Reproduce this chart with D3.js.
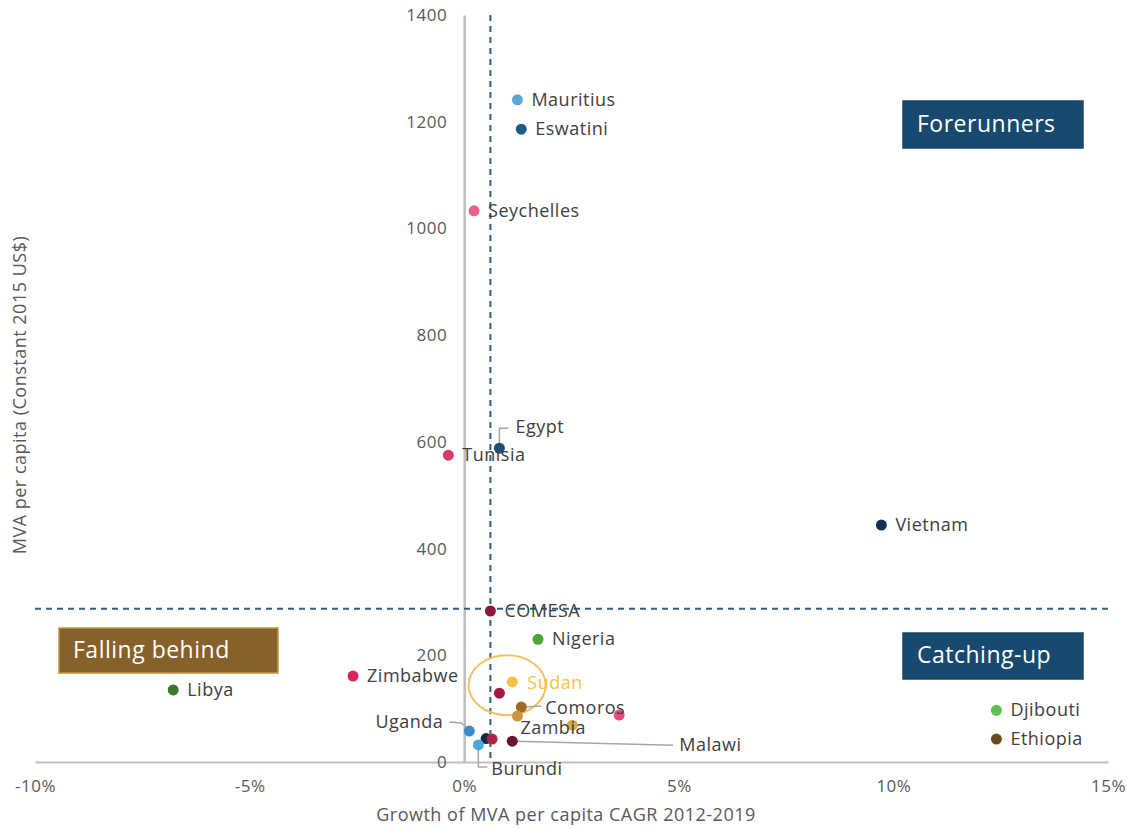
<!DOCTYPE html>
<html>
<head>
<meta charset="utf-8">
<script src="https://cdn.jsdelivr.net/npm/d3@7"></script>
<style>
  body { margin: 0; background: #fff; }
  svg text { font-family: "Open Sans", sans-serif; letter-spacing: 0.5px; }
</style>
</head>
<body>
<div id="chart"></div>
<script>
const width = 1127;
const height = 829;

// data
const countries = ["Mauritius", "Eswatini", "Seychelles", "Egypt", "Tunisia", "Vietnam", "COMESA",
    "Nigeria", "Zimbabwe", "Libya", "Sudan", "", "Comoros", "Zambia", "", "", "Djibouti", "Ethiopia",
    "Uganda", "", "", "Burundi", "Malawi"];
const growth = [1.24, 1.33, 0.23, 0.82, -0.37, 9.72, 0.61,
    1.72, -2.59, -6.78, 1.12, 0.82, 1.33, 1.24, 2.52, 3.61, 12.4, 12.4,
    0.12, 0.51, 0.65, 0.33, 1.12];
const mva = [1241, 1186, 1033, 588, 575, 444, 283,
    230, 161, 135, 150, 129, 103, 86, 69, 88, 97, 43,
    58, 44, 43, 32, 39];
const xTicks = [-10, -5, 0, 5, 10, 15];
const yTicks = [0, 200, 400, 600, 800, 1000, 1200, 1400];
const comesa = {growth: 0.61, mva: 287};

// styles
const pointColors = ["#5ba7da", "#1f5c85", "#e8618c", "#1f4e79", "#d63c64", "#14304f", "#8b1a3a",
    "#4ea33b", "#d9245a", "#3a7a2e", "#f7c04a", "#a3193f", "#9c6a24", "#c9973c", "#d6a84a", "#e84c7a", "#5cc052", "#6b4b1e",
    "#3d8cc9", "#0f2a45", "#b02245", "#4aa8e0", "#6b1430"];

// label offsets from the point (px)
const labelPos = {
    "Egypt": {dx: 16, dy: -20, leader: [[0, -4], [0, -20], [9, -20]]},
    "Comoros": {dx: 24, dy: 2, leader: [[2, 0], [20, -1]]},
    "Zambia": {dx: 3, dy: 13},
    "Uganda": {dx: -26, dy: -8, anchor: "end", leader: [[-2, -3], [-8, -8], [-20, -9]]},
    "Burundi": {dx: 13, dy: 25, leader: [[0, 4], [0, 22], [9, 22]]},
    "Malawi": {dx: 167, dy: 5, leader: [[3, 0], [161, 4]]},
    "Sudan": {dx: 15, dy: 2, color: "#f5bf45"}
};

const data = countries.map((c, i) => ({name: c, x: growth[i], y: mva[i], color: pointColors[i]}));

const svg = d3.select("#chart").append("svg")
    .attr("width", width)
    .attr("height", height);

const x = d3.scaleLinear().domain([-10, 15]).range([35, 1108]);
const y = d3.scaleLinear().domain([0, 1400]).range([762, 15]);

// axes
const xAxis = d3.axisBottom(x).tickValues(xTicks).tickSize(0).tickPadding(18)
    .tickFormat(d => d + "%");
const yAxis = d3.axisLeft(y).tickValues(yTicks).tickSize(0).tickPadding(17)
    .tickFormat(d3.format("d"));

svg.append("g")
    .attr("transform", `translate(0,${y(0)})`)
    .call(xAxis)
    .call(g => g.select(".domain").attr("stroke", "#bfbfbf").attr("stroke-width", 2))
    .call(g => g.selectAll("text").attr("fill", "#595959").style("font-size", "17px"));

svg.append("g")
    .attr("transform", `translate(${x(0)},0)`)
    .call(yAxis)
    .call(g => g.select(".domain").attr("stroke", "#bfbfbf").attr("stroke-width", 2.5))
    .call(g => g.selectAll("text").attr("fill", "#595959").style("font-size", "17px"));

// axis titles
svg.append("text")
    .attr("x", 566).attr("y", 816)
    .attr("text-anchor", "middle").attr("dominant-baseline", "middle")
    .attr("fill", "#595959").style("font-size", "18px")
    .text("Growth of MVA per capita CAGR 2012-2019");

svg.append("text")
    .attr("transform", "translate(21,395) rotate(-90)")
    .attr("text-anchor", "middle").attr("dominant-baseline", "middle")
    .attr("fill", "#595959").style("font-size", "18px")
    .text("MVA per capita (Constant 2015 US$)");

// COMESA reference lines
svg.append("line")
    .attr("x1", x(comesa.growth)).attr("x2", x(comesa.growth))
    .attr("y1", y(1400)).attr("y2", y(0))
    .attr("stroke", "#2e5f80").attr("stroke-width", 2).attr("stroke-dasharray", "6,5");
svg.append("line")
    .attr("x1", 35).attr("x2", 1112)
    .attr("y1", y(comesa.mva)).attr("y2", y(comesa.mva))
    .attr("stroke", "#2e5f80").attr("stroke-width", 2).attr("stroke-dasharray", "6,5");

// quadrant boxes
const boxes = [
    {text: "Forerunners", x0: 903, y0: 101, w: 180, h: 47, fill: "#174a6e", stroke: "#174a6e"},
    {text: "Catching-up", x0: 903, y0: 633, w: 180, h: 46, fill: "#174a6e", stroke: "#174a6e"},
    {text: "Falling behind", x0: 59, y0: 628, w: 219, h: 45, fill: "#86612b", stroke: "#c4953f"}
];
const box = svg.selectAll(".box").data(boxes).enter().append("g").attr("class", "box");
box.append("rect")
    .attr("x", d => d.x0).attr("y", d => d.y0)
    .attr("width", d => d.w).attr("height", d => d.h)
    .attr("fill", d => d.fill).attr("stroke", d => d.stroke).attr("stroke-width", 1.5);
box.append("text")
    .attr("x", d => d.x0 + 14).attr("y", d => d.y0 + d.h / 2 + 1)
    .attr("dominant-baseline", "middle")
    .attr("fill", "#fff").style("font-size", "23px")
    .text(d => d.text);

// Sudan highlight ellipse
svg.append("ellipse")
    .attr("cx", x(1.0)).attr("cy", y(144))
    .attr("rx", 38.5).attr("ry", 30)
    .attr("fill", "none").attr("stroke", "#f2c260").attr("stroke-width", 2);

// leader lines
data.filter(d => labelPos[d.name] && labelPos[d.name].leader).forEach(d => {
    const p = labelPos[d.name].leader.map(o => [x(d.x) + o[0], y(d.y) + o[1]]);
    svg.append("path")
        .attr("d", d3.line()(p))
        .attr("fill", "none").attr("stroke", "#a6a6a6").attr("stroke-width", 1.5);
});

// points
svg.selectAll(".pt").data(data).enter().append("circle")
    .attr("class", "pt")
    .attr("cx", d => x(d.x)).attr("cy", d => y(d.y))
    .attr("r", 5.5)
    .attr("fill", d => d.color);

// labels
svg.selectAll(".lbl").data(data.filter(d => d.name !== "")).enter().append("text")
    .attr("class", "lbl")
    .attr("x", d => x(d.x) + (labelPos[d.name] ? labelPos[d.name].dx : 14))
    .attr("y", d => y(d.y) + (labelPos[d.name] ? labelPos[d.name].dy : 1))
    .attr("text-anchor", d => (labelPos[d.name] && labelPos[d.name].anchor) || "start")
    .attr("dominant-baseline", "middle")
    .attr("fill", d => (labelPos[d.name] && labelPos[d.name].color) || "#404040")
    .style("font-size", "18px")
    .text(d => d.name);
</script>
</body>
</html>
